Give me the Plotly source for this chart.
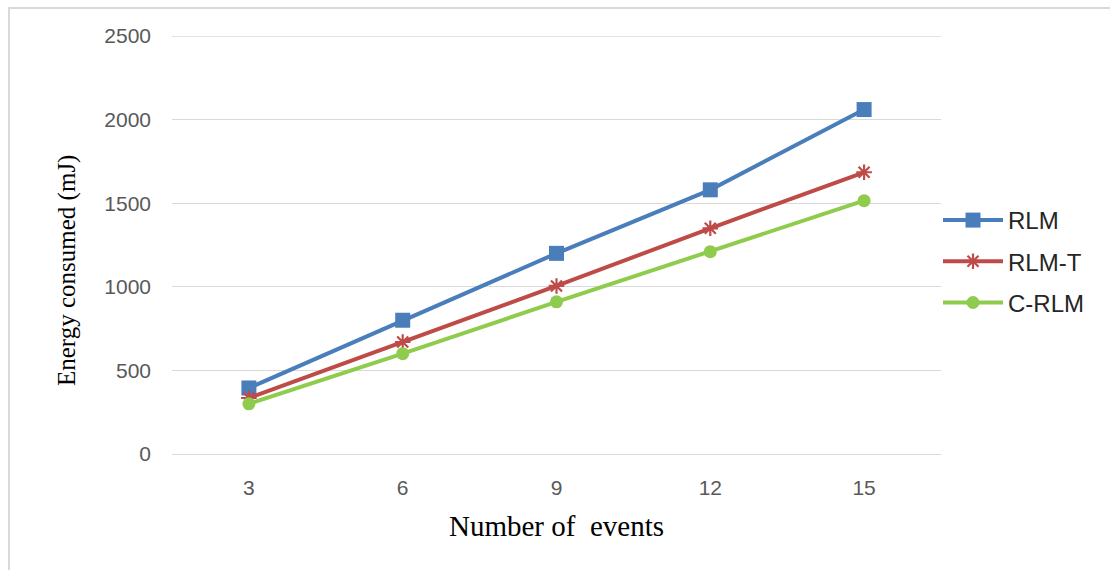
import plotly.graph_objects as go

# Data
events = ["3", "6", "9", "12", "15"]
rlm = [395, 800, 1200, 1580, 2060]
rlm_t = [335, 670, 1005, 1350, 1685]
c_rlm = [300, 600, 910, 1210, 1515]
y_ticks = [0, 500, 1000, 1500, 2000, 2500]

W, H = 1110, 570
L, R, T, B = 172, 941, 36, 454  # plot area in pixels

BLUE = "#4A7EBB"
RED = "#BE4B48"
GREEN = "#8FCB4C"

fig = go.Figure()
fig.add_trace(go.Scatter(
    x=events, y=rlm, name="RLM", mode="lines+markers", legendgroup="a",
    line=dict(color=BLUE, width=4),
    marker=dict(symbol="square", size=15, color=BLUE),
))
fig.add_trace(go.Scatter(
    x=events, y=rlm_t, name="RLM-T", mode="lines+markers", legendgroup="b",
    line=dict(color=RED, width=4),
    marker=dict(symbol="asterisk-open", size=13, color=RED, line=dict(color=RED, width=2.2)),
))
fig.add_trace(go.Scatter(
    x=events, y=c_rlm, name="C-RLM", mode="lines+markers", legendgroup="c",
    line=dict(color=GREEN, width=4),
    marker=dict(symbol="circle", size=13, color=GREEN),
))

pw, ph = R - L, B - T


def px_x(p):
    return (p - L) / pw


def px_y(p):
    return (B - p) / ph


fig.update_layout(
    width=W, height=H,
    margin=dict(l=L, r=W - R, t=T, b=H - B, pad=0),
    paper_bgcolor="white", plot_bgcolor="white",
    font=dict(family="Liberation Sans, Arial, sans-serif", color="#595959"),
    showlegend=True,
    legend=dict(
        x=px_x(938), y=px_y(198), xanchor="left", yanchor="top",
        font=dict(size=24, color="#262626", family="Liberation Sans, Arial, sans-serif"),
        tracegroupgap=7, itemwidth=60, bgcolor="rgba(0,0,0,0)",
    ),
    xaxis=dict(
        type="category", range=[-0.5, 4.5],
        showgrid=False, zeroline=False, showline=False,
        ticks="", ticklabelstandoff=19,
        tickfont=dict(size=21, color="#595959"),
        fixedrange=True,
    ),
    yaxis=dict(
        range=[0, 2500], tickvals=y_ticks,
        showgrid=True, gridcolor="#D9D9D9", gridwidth=1.3,
        zeroline=True, zerolinecolor="#D9D9D9", zerolinewidth=1.3,
        showline=False, ticks="", ticklabelstandoff=20,
        tickfont=dict(size=21, color="#595959"),
        fixedrange=True,
    ),
    annotations=[
        dict(text="Number of  events", x=0.5, y=px_y(526), xref="paper", yref="paper",
             showarrow=False, xanchor="center", yanchor="middle",
             font=dict(family="Liberation Serif, Times New Roman, serif", size=29, color="#000000")),
        dict(text="Energy consumed (mJ)", x=px_x(67), y=px_y(270), xref="paper", yref="paper",
             showarrow=False, xanchor="center", yanchor="middle", textangle=-90,
             font=dict(family="Liberation Serif, Times New Roman, serif", size=25, color="#000000")),
    ],
    shapes=[
        # outer chart frame
        dict(type="rect", xref="paper", yref="paper",
             x0=px_x(9), x1=px_x(1112), y0=px_y(575), y1=px_y(8),
             line=dict(color="#D9D9D9", width=2), fillcolor="rgba(0,0,0,0)", layer="below"),
        # top gridline drawn explicitly at the range edge
        dict(type="line", xref="paper", yref="y", x0=0, x1=1, y0=2500, y1=2500,
             line=dict(color="#D9D9D9", width=1.3), layer="below"),
    ],
)

fig.write_html("out.html")
